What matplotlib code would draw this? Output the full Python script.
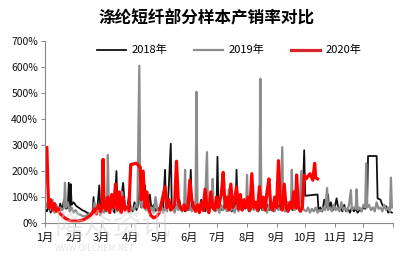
import numpy as np
import matplotlib
matplotlib.use('Agg')
import matplotlib.pyplot as plt

plt.rcParams['font.family'] = ['Noto Sans CJK SC', 'DejaVu Sans']

# day of year -> value (%)
days_2018 = [0, 2, 4, 6, 8, 10, 12, 14, 16, 18, 20, 22, 24, 25, 26, 27, 28, 30, 33, 36, 39, 42, 45, 48, 50, 51, 52, 55, 57, 58,
             60, 62, 64, 66, 68, 70, 73, 75, 76, 78, 80, 82, 84, 86, 88, 90, 92, 94, 96, 98, 100, 101, 103, 105, 106, 108, 110, 112,
             114, 116, 118, 120, 122, 124, 126, 127, 129, 132, 133, 135, 137, 139, 141, 143, 145, 147, 149, 151, 153, 154, 156,
             158, 160, 162, 164, 166, 168, 170, 172, 174, 176, 178, 180, 181, 182, 184, 186, 188, 190, 192, 194, 196, 198, 200,
             201, 202, 204, 206, 208, 210, 212, 214, 216, 218, 220, 222, 224, 226, 228, 230, 232, 234, 236, 238, 240, 242, 244,
             246, 248, 250, 252, 254, 256, 258, 260, 262, 264, 266, 268, 270, 272, 273, 286, 287, 289, 291, 293, 295, 297, 298,
             300, 302, 304, 306, 308, 310, 312, 314, 316, 318, 320, 322, 324, 326, 328, 330, 332, 334, 336, 338, 339, 348, 349,
             352, 354, 356, 358, 360, 362, 364]
vals_2018 = [55, 45, 65, 40, 70, 50, 60, 45, 75, 50, 90, 55, 60, 155, 60, 150, 70, 80, 65, 58, 50, 45, 38, 35, 40, 100, 40, 60, 145, 60,
             50, 70, 45, 90, 50, 60, 40, 200, 70, 60, 90, 155, 60, 50, 100, 60, 45, 80, 50, 70, 180, 60, 70, 145, 55, 60, 110, 50,
             70, 45, 60, 50, 80, 55, 205, 60, 70, 305, 60, 50, 70, 55, 90, 50, 60, 45, 60, 50, 205, 60, 80,
             55, 70, 50, 90, 60, 45, 70, 55, 60, 80, 50, 60, 255, 60, 70, 50, 60, 100, 55, 60, 45, 70, 60,
             205, 70, 50, 60, 80, 55, 65, 45, 60, 90, 55, 60, 45, 70, 50, 60, 80, 55, 50, 65, 45, 60, 55,
             70, 50, 60, 45, 80, 55, 60, 50, 70, 55, 60, 50, 60, 280, 105, 110, 50, 60, 45, 90, 60, 110, 55,
             80, 50, 60, 95, 50, 60, 45, 70, 45, 55, 40, 60, 45, 55, 40, 50, 45, 60, 55, 70, 258, 258, 95,
             90, 70, 60, 65, 40, 45, 40]

days_2019 = [0, 2, 4, 6, 8, 10, 12, 14, 16, 18, 20, 21, 22, 24, 26, 28, 30, 32, 35, 38, 41, 44, 47, 50, 52, 54, 56, 58, 60, 62,
             64, 65, 66, 67, 69, 71, 73, 75, 77, 79, 81, 83, 85, 87, 89, 91, 93, 95, 97, 99, 100, 102, 103, 104, 106, 108, 110,
             112, 114, 116, 118, 120, 122, 124, 126, 128, 130, 132, 134, 136, 138, 140, 142, 144, 146, 147, 148, 150, 152, 154,
             156, 158, 159, 160, 162, 164, 166, 168, 170, 171, 173, 175, 176, 177, 179, 181, 183, 185, 187, 189, 191, 193, 195,
             197, 199, 201, 203, 205, 207, 209, 211, 212, 213, 215, 217, 219, 221, 223, 225, 226, 227, 229, 231, 233, 235, 237,
             239, 241, 243, 245, 247, 249, 250, 252, 254, 256, 258, 259, 260, 262, 264, 265, 267, 269, 270, 272, 274, 276, 278,
             280, 282, 284, 286, 288, 290, 292, 294, 296, 297, 299, 301, 303, 305, 307, 309, 311, 313, 315, 317, 319, 321, 322,
             324, 326, 327, 328, 330, 332, 334, 336, 337, 338, 340, 342, 344, 346, 348, 350, 352, 354, 356, 358, 360, 362, 363, 364]
vals_2019 = [80, 60, 100, 50, 90, 40, 70, 45, 60, 50, 60, 155, 60, 80, 45, 60, 40, 50, 35, 30, 25, 30, 35, 40, 80, 40, 60, 30, 50, 40,
             100, 45, 262, 60, 80, 50, 90, 45, 60, 40, 120, 60, 50, 70, 45, 60, 50, 70, 60, 605, 80, 60, 200, 60, 50, 70, 45,
             60, 40, 100, 50, 45, 70, 40, 60, 45, 80, 50, 60, 40, 70, 50, 60, 45, 60, 205, 60, 50, 70, 45,
             60, 80, 505, 70, 50, 60, 45, 80, 273, 60, 50, 70, 170, 60, 45, 60, 40, 70, 50, 60, 45, 130, 50,
             60, 40, 70, 45, 60, 50, 80, 60, 185, 60, 45, 70, 50, 60, 45, 80, 555, 70, 50, 60, 40, 70, 50,
             60, 45, 70, 50, 60, 292, 60, 45, 80, 50, 60, 205, 60, 50, 170, 60, 50, 200, 60, 50, 45, 60, 40,
             55, 45, 60, 40, 50, 45, 60, 50, 135, 50, 60, 45, 70, 50, 60, 45, 80, 50, 60, 45, 70, 127, 50,
             60, 55, 130, 50, 60, 45, 70, 60, 230, 60, 70, 50, 60, 45, 80, 55, 60, 45, 70, 50, 60, 45, 175, 60]

days_2020 = [2, 3, 4, 6, 8, 10, 12, 14, 16, 18, 20, 23, 26, 30, 34, 38, 42, 45, 48, 50, 52, 54, 56, 58, 60, 61, 62, 64, 66, 68,
             70, 72, 74, 76, 78, 80, 82, 84, 86, 88, 90, 96, 100, 101, 103, 105, 107, 109, 111, 114, 117, 120, 123, 126, 128,
             130, 132, 134, 136, 138, 140, 142, 144, 146, 148, 150, 152, 154, 156, 158, 160, 162, 164, 166, 168, 170, 172, 174,
             176, 178, 180, 182, 185, 187, 189, 191, 193, 195, 197, 199, 201, 203, 205, 207, 209, 211, 213, 215, 217, 219, 221,
             223, 225, 227, 229, 231, 233, 235, 237, 239, 241, 243, 245, 247, 249, 251, 253, 255, 257, 259, 261, 263, 264, 266,
             268, 270, 272, 274, 278, 281, 283, 284, 286]
vals_2020 = [290, 150, 60, 90, 50, 75, 45, 55, 35, 30, 22, 15, 10, 8, 8, 10, 15, 22, 30, 40, 55, 35, 70, 45, 60, 245, 70, 50, 100, 40,
             110, 60, 150, 50, 120, 40, 100, 50, 60, 45, 225, 230, 215, 90, 200, 60, 120, 50, 30, 20, 25, 40, 90, 140, 60,
             90, 50, 60, 70, 238, 80, 60, 50, 70, 50, 60, 165, 90, 60, 45, 70, 40, 80, 50, 130, 60, 40, 120,
             60, 50, 100, 60, 110, 195, 60, 100, 50, 150, 60, 90, 140, 55, 110, 50, 90, 60, 100, 50, 190, 60, 80,
             50, 140, 60, 100, 50, 120, 170, 60, 50, 100, 60, 240, 70, 50, 150, 60, 45, 80, 55, 120, 60, 185, 60,
             45, 60, 185, 170, 190, 165, 230, 175, 170]

month_starts = [0, 31, 59, 90, 120, 151, 181, 212, 243, 273, 304, 334, 365]
month_labels = ['1月', '2月', '3月', '4月', '5月', '6月', '7月', '8月', '9月', '10月', '11月', '12月']

fig = plt.figure(figsize=(4.05, 2.57), dpi=100)
ax = fig.add_axes([0.111, 0.132, 0.859, 0.708])

ax.plot(days_2018, vals_2018, color='#111111', lw=1.3, label='2018年')
ax.plot(days_2019, vals_2019, color='#8c8c8c', lw=1.6, label='2019年')
ax.plot(days_2020, vals_2020, color='#ff0000', lw=2.3, label='2020年')

ax.set_xlim(0, 365)
ax.set_ylim(0, 700)
ax.set_xticks(month_starts)
ax.set_xticklabels(month_labels + [''])
ax.set_yticks(range(0, 701, 100))
ax.set_yticklabels([f'{v}%' for v in range(0, 701, 100)])
ax.tick_params(axis='both', labelsize=7.5, length=3, width=0.7, pad=2)
ax.tick_params(axis='x', colors='#888888', labelcolor='#111111', pad=4, labelsize=8)
ax.tick_params(axis='y', colors='#888888', labelcolor='#111111')
for s in ['top', 'right']:
    ax.spines[s].set_visible(False)
for s in ['left', 'bottom']:
    ax.spines[s].set_color('#888888')
    ax.spines[s].set_linewidth(0.8)

leg = ax.legend(loc='center', bbox_to_anchor=(0.53, 0.95), ncol=3, frameon=False, fontsize=8,
                handlelength=2.6, columnspacing=2.4, handletextpad=0.5)
leg.legend_handles[2].set_color('#d9232a')

fig.text(0.51, 0.93, '涤纶短纤部分样本产销率对比', ha='center', va='center', fontsize=12, fontweight='bold')

# watermark
fig.text(0.135, 0.12, '隆众资讯', fontsize=21, color='#d4d4d4', alpha=0.5, ha='left', va='center', zorder=10)
fig.text(0.135, 0.035, 'WWW.OILCHEM.NET', fontsize=6, color='#d4d4d4', alpha=0.6, ha='left', va='center', zorder=10)

fig.savefig('out.png', dpi=100)
